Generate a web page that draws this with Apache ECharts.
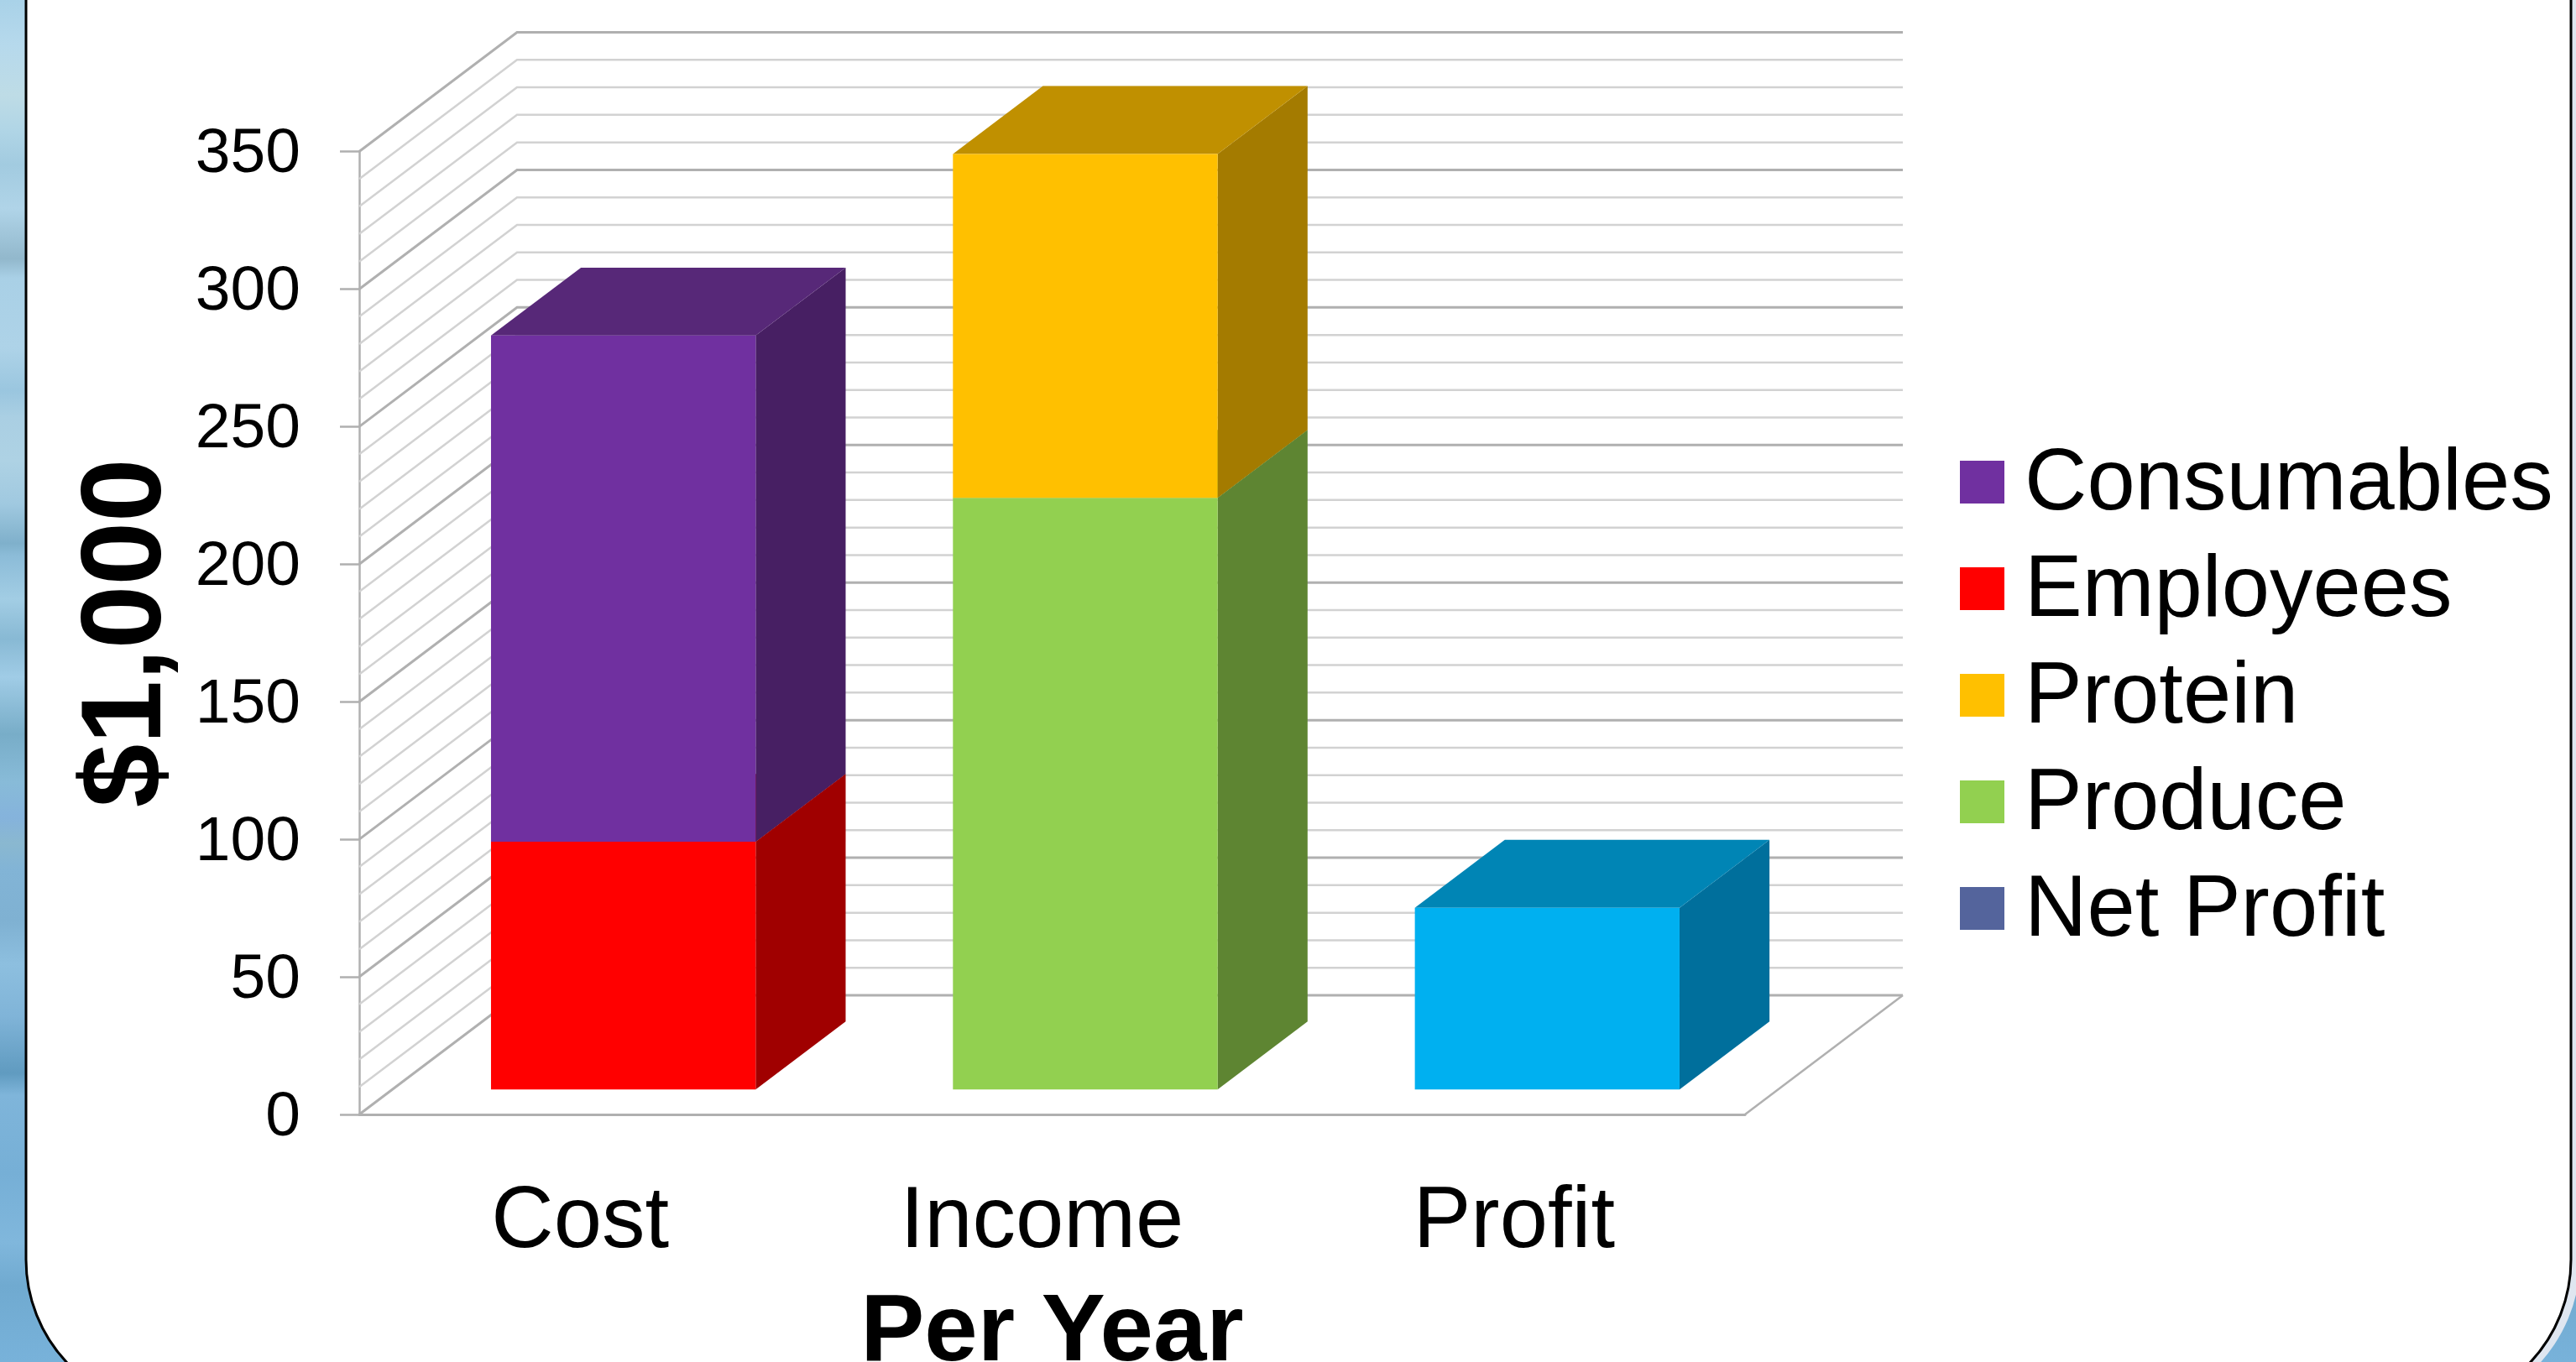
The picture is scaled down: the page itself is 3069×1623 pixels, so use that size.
<!DOCTYPE html>
<html>
<head>
<meta charset="utf-8">
<title>Per Year</title>
<style>
  html, body { margin: 0; padding: 0; background: #fff; }
  #chart { width: 3069px; height: 1623px; }
</style>
<script src="https://cdn.jsdelivr.net/npm/echarts@6/dist/echarts.min.js"></script>
</head>
<body>
<div id="chart"></div>
<script>
// values, in $1,000
var categories = ['Cost', 'Income', 'Profit'];
var netProfit = [0, 0, 66];
var produce = [0, 215, 0];
var protein = [0, 125, 0];
var employees = [90, 0, 0];
var consumables = [184, 0, 0];

var legendNames = ['Consumables', 'Employees', 'Protein', 'Produce', 'Net Profit'];
var wallLevels = [0, 10, 20, 30, 40, 50, 60, 70, 80, 90, 100, 110, 120, 130, 140, 150, 160, 170, 180,
    190, 200, 210, 220, 230, 240, 250, 260, 270, 280, 290, 300, 310, 320, 330, 340, 350];

// water behind the panel, top to bottom
var waterStops = [
    [0, '#a9d2e8'], [0.033, '#b6d9ec'], [0.07, '#bedce6'], [0.096, '#b0d5e6'], [0.121, '#a2cbe0'],
    [0.153, '#b0d4e8'], [0.19, '#92b8cc'], [0.204, '#a9d0e6'], [0.255, '#aed3e8'], [0.287, '#9ac6df'],
    [0.306, '#aacfe3'], [0.338, '#aed2e4'], [0.37, '#a0c9e0'], [0.399, '#7fb0cb'], [0.408, '#8cbcd8'],
    [0.44, '#a2cde4'], [0.469, '#88b9d4'], [0.497, '#a0cce6'], [0.539, '#78adc8'], [0.574, '#88bbd8'],
    [0.6, '#85b3dc'], [0.619, '#8ab8d0'], [0.638, '#82b4d6'], [0.676, '#7fb1d2'], [0.708, '#8dbfdf'],
    [0.746, '#80b4d8'], [0.788, '#609bc0'], [0.804, '#7fb5da'], [0.861, '#76afd6'], [0.912, '#80b7dc'],
    [0.944, '#70aad0'], [1, '#78b2da']
];

// 3d box depth
var wallDx = 188, wallDy = 142;
var barFrontZ = 0.21, barBackZ = 0.78, barWidth = 0.573;

function box(front, top, side) {
    return { front: front, top: top, side: side };
}

function renderWall(params, api) {
    var level = api.value(1);
    var grid = params.coordSys;
    var y = api.coord([0, level])[1];
    var x0 = grid.x, x1 = grid.x + grid.width;
    var major = level % 50 === 0;
    var children = [{
        type: 'polyline',
        shape: { points: [[x0, y], [x0 + wallDx, y - wallDy], [x1 + wallDx, y - wallDy]] },
        style: { fill: null, stroke: major ? '#b0b0b0' : '#d2d2d2', lineWidth: major ? 3 : 2.5 }
    }];
    if (level === 0) {
        children.push({
            type: 'line',
            shape: { x1: x1, y1: y, x2: x1 + wallDx, y2: y - wallDy },
            style: { stroke: '#b0b0b0', lineWidth: 2.5 }
        });
    }
    return { type: 'group', children: children };
}

function barRenderer(c) {
    return function (params, api) {
        var val = api.value(1), base = api.value(2);
        if (!val) return null;
        var band = api.size([1, 0])[0];
        var center = api.coord([api.value(0), 0])[0];
        var lo = api.coord([0, base])[1], hi = api.coord([0, base + val])[1];
        var fx = barFrontZ * wallDx, fy = barFrontZ * wallDy;
        var bx = barBackZ * wallDx, by = barBackZ * wallDy;
        var l = center - band * barWidth / 2, r = center + band * barWidth / 2;
        function poly(pts, fill) {
            return { type: 'polygon', shape: { points: pts }, style: { fill: fill } };
        }
        return {
            type: 'group',
            children: [
                poly([[r + fx, lo - fy], [r + bx, lo - by], [r + bx, hi - by], [r + fx, hi - fy]], c.side),
                poly([[l + fx, hi - fy], [r + fx, hi - fy], [r + bx, hi - by], [l + bx, hi - by]], c.top),
                poly([[l + fx, lo - fy], [r + fx, lo - fy], [r + fx, hi - fy], [l + fx, hi - fy]], c.front)
            ]
        };
    };
}

// stacked from the floor up, so bases add up in this order
var running = [0, 0, 0];
function stackSeries(name, values, colors, legendColor) {
    var rows = values.map(function (v, i) {
        var row = [i, v, running[i]];
        running[i] += v;
        return row;
    });
    return {
        name: name,
        type: 'custom',
        z: 3,
        silent: true,
        renderItem: barRenderer(colors),
        encode: { x: 0, y: 1 },
        itemStyle: { color: legendColor },
        data: rows
    };
}

var chart = echarts.init(document.getElementById('chart'));

var option = {
    animation: false,
    textStyle: { fontFamily: '"Liberation Sans", Arial, sans-serif', color: '#000' },
    graphic: {
        elements: [
            {
                type: 'rect', z: -30, silent: true,
                shape: { x: 0, y: 0, width: 3069, height: 1623 },
                style: {
                    fill: new echarts.graphic.LinearGradient(0, 0, 0, 1, waterStops.map(function (s) {
                        return { offset: s[0], color: s[1] };
                    }))
                }
            },
            {
                type: 'rect', z: -29, silent: true,
                shape: { x: 60, y: -300, width: 3014, height: 1985, r: 185 },
                style: { fill: '#dfe6f0' }
            },
            {
                type: 'rect', z: -28, silent: true,
                shape: { x: 31, y: -300, width: 3032, height: 1980, r: 179 },
                style: { fill: '#ffffff', stroke: '#000000', lineWidth: 3 }
            }
        ]
    },
    grid: { left: 428, top: 180.5, width: 1651, height: 1147.5, outerBoundsMode: 'none' },
    legend: {
        data: legendNames,
        orient: 'vertical',
        left: 2335,
        top: 519,
        padding: 0,
        icon: 'rect',
        itemWidth: 53,
        itemHeight: 51,
        itemGap: 16,
        selectedMode: false,
        formatter: '{t|{name}}',
        textStyle: {
            rich: {
                t: { fontSize: 103, lineHeight: 100, color: '#000', padding: [8, 0, 0, 19] }
            }
        }
    },
    xAxis: {
        type: 'category',
        data: categories.map(function (name) {
            // Profit sits a little further right in the picture than the other two
            return name === 'Profit' ? { value: name, textStyle: { padding: [0, 0, 0, 0] } } : name;
        }),
        name: 'Per Year',
        nameLocation: 'middle',
        nameGap: 205,
        nameTextStyle: { fontSize: 114, fontWeight: 'bold', color: '#000' },
        axisLine: { lineStyle: { color: '#b0b0b0', width: 3 } },
        axisTick: { show: false },
        axisLabel: { fontSize: 103, color: '#000', margin: 78, padding: [0, 24, 0, 0] }
    },
    yAxis: {
        type: 'value',
        min: 0,
        max: 350,
        interval: 50,
        name: '$1,000',
        nameLocation: 'middle',
        nameRotate: 90,
        nameGap: 207,
        nameTextStyle: { fontSize: 136, fontWeight: 'bold', color: '#000' },
        axisLine: { show: true, lineStyle: { color: '#b0b0b0', width: 2.5 } },
        axisTick: { show: true, length: 23, lineStyle: { color: '#b0b0b0', width: 2.5 } },
        splitLine: { show: false },
        axisLabel: {
            margin: 70,
            formatter: '{v|{value}}',
            rich: { v: { fontSize: 75, color: '#000', padding: [8, 0, 0, 0] } }
        }
    },
    series: [
        {
            type: 'custom',
            z: 1,
            silent: true,
            renderItem: renderWall,
            encode: { x: 0, y: 1 },
            data: wallLevels.map(function (lv) { return [0, lv]; })
        },
        stackSeries('Net Profit', netProfit, box('#00b0f0', '#0085b5', '#006f9c'), '#54649c'),
        stackSeries('Produce', produce, box('#92d050', '#6d9c3c', '#5e8532'), '#92d050'),
        stackSeries('Protein', protein, box('#ffc000', '#c09000', '#a47b00'), '#ffc000'),
        stackSeries('Employees', employees, box('#ff0000', '#bf0000', '#a00000'), '#ff0000'),
        stackSeries('Consumables', consumables, box('#7030a0', '#572878', '#471f63'), '#7030a0')
    ]
};

chart.setOption(option);
</script>
</body>
</html>
